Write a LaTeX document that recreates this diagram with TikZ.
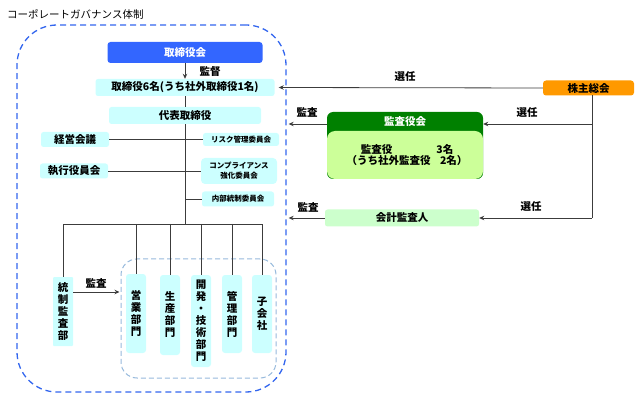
\documentclass[tikz,border=0pt]{standalone}
\usepackage{fontspec}
\setmainfont{Noto Sans CJK JP}
\usetikzlibrary{arrows.meta,calc}
\definecolor{cyanbox}{RGB}{204,255,255}
\definecolor{boardblue}{RGB}{51,102,255}
\definecolor{outerblue}{RGB}{51,102,238}
\definecolor{innerblue}{RGB}{150,185,220}
\definecolor{kgreen}{RGB}{0,128,0}
\definecolor{kbody}{RGB}{204,255,153}
\definecolor{kaikeigreen}{RGB}{204,255,204}
\definecolor{orangebox}{RGB}{255,153,0}
\definecolor{linegray}{RGB}{60,60,60}
\tikzset{
  mainfont/.style={font=\fontsize{10.5}{12}\selectfont\bfseries},
  smallfont/.style={font=\fontsize{7.5}{10}\selectfont\bfseries},
  cbox/.style={fill=cyanbox, rounded corners=2.5pt, inner sep=0pt, mainfont},
  cboxs/.style={fill=cyanbox, rounded corners=2.5pt, inner sep=0pt, smallfont, align=center},
  vbox/.style={fill=cyanbox, rounded corners=3pt, inner sep=0pt, align=center, minimum width=20pt, font=\fontsize{10.5}{12}\selectfont\bfseries},
  conn/.style={draw=linegray, line width=0.8pt},
  arr/.style={conn, -{Stealth[length=5pt,width=4.5pt]}},
  lbl/.style={inner sep=0pt, mainfont},
}
\begin{document}
\begin{tikzpicture}[x=1pt,y=-1pt]
\useasboundingbox (0,0) rectangle (640,398);

% title
\node[lbl, anchor=west, font=\fontsize{10.5}{12}\selectfont] (title) at (7,14) {コーポレートガバナンス体制};

% outer and inner dashed frames
\node[draw=outerblue, line width=1.3pt, dash pattern=on 6pt off 4pt, rounded corners=40pt,
      minimum width=269pt, minimum height=367pt, inner sep=0pt] (outer) at (151.5,208.5) {};
\node[draw=innerblue, line width=1pt, dash pattern=on 5pt off 3pt, rounded corners=16pt,
      minimum width=155pt, minimum height=119pt, inner sep=0pt] (inner) at (198.5,318.5) {};

% left structure
\node[fill=boardblue, text=white, rounded corners=3pt, minimum width=155pt, minimum height=21pt, inner sep=0pt, mainfont] (board) at (185,52.5) {取締役会};
\node[cbox, minimum width=179pt, minimum height=17pt] (r6) at (185,87.5) {取締役6名(うち社外取締役1名)};
\node[cbox, minimum width=152pt, minimum height=17pt] (daihyo) at (185,115.5) {代表取締役};
\node[cbox, minimum width=68pt, minimum height=15pt] (keiei) at (75,139.5) {経営会議};
\node[cbox, minimum width=68pt, minimum height=15pt] (shikko) at (74,171) {執行役員会};
\node[cboxs, minimum width=76pt, minimum height=13pt] (risk) at (241,139.5) {リスク管理委員会};
\node[cboxs, minimum width=76pt, minimum height=26pt, rounded corners=4pt] (comp) at (239,171) {コンプライアンス\\強化委員会};
\node[cboxs, minimum width=72pt, minimum height=15pt] (naibu) at (238,199) {内部統制委員会};

\node[vbox, minimum height=69pt, rounded corners=1pt] (tosei) at (63,311.5) {統\\制\\監\\査\\部};
\node[vbox, minimum height=79pt] (d1) at (136,313.5) {営\\業\\部\\門};
\node[vbox, minimum height=80pt] (d2) at (170,315) {生\\産\\部\\門};
\node[vbox, minimum height=92pt] (d3) at (201,321) {開\\発\\・\\技\\術\\部\\門};
\node[vbox, minimum height=78pt] (d4) at (232,314) {管\\理\\部\\門};
\node[vbox, minimum height=78pt] (d5) at (262,314) {子\\会\\社};

\coordinate (bus) at (185,224);

% connectors left
\draw[arr] (board.south) -- (r6.north);
\node[lbl] (kantoku) at (210,72) {監督};
\draw[conn] (r6.south) -- (daihyo.north);
\draw[conn] (daihyo.south) -- (bus);
\draw[conn] (keiei.east) -- (keiei.east -| bus);
\draw[conn] (risk.west) -- (risk.west -| bus);
\draw[conn] (shikko.east) -- (shikko.east -| bus);
\draw[conn] (comp.west) -- (comp.west -| bus);
\draw[conn] (naibu.west) -- (naibu.west -| bus);
\draw[conn] (tosei.north) -- (tosei.north |- bus) -- (d5.north |- bus) -- (d5.north);
\draw[conn] (d1.north |- bus) -- (d1.north);
\draw[conn] (d2.north |- bus) -- (d2.north);
\draw[conn] (d3.north |- bus) -- (d3.north);
\draw[conn] (d4.north |- bus) -- (d4.north);

\coordinate (ta) at (0,292);
\draw[arr] (tosei.east |- ta) -- ([xshift=-1pt]inner.west |- ta);
\node[lbl] (kansaL) at (96,283) {監査};

% right structure
\node[fill=orangebox, rounded corners=3pt, minimum width=91pt, minimum height=15pt, inner sep=0pt, mainfont] (kabu) at (588.5,88) {株主総会};
\node[fill=kgreen, rounded corners=6pt, minimum width=156pt, minimum height=67pt, inner sep=0pt] (kansa) at (405,145.5) {};
\node[fill=kbody, rounded corners=8pt, minimum width=156pt, minimum height=48pt, inner sep=0pt] (kbody) at (405,155) {};
\node[lbl, text=white] (khead) at (405,122) {監査役会};
\node[lbl, align=center, font=\fontsize{10.5}{11.5}\selectfont\bfseries] (ktext) at (407,155) {監査役\hspace{4.2em}3名\\（うち社外監査役\hspace{0.9em}2名）};
\node[fill=kaikeigreen, rounded corners=2.5pt, minimum width=154pt, minimum height=17pt, inner sep=0pt, mainfont] (kaikei) at (402,218) {会計監査人};

\coordinate (vtop) at (592,95.5);
\coordinate (vbot) at (592,218);
\coordinate (ky) at (0,124);

\draw[arr] (kabu.west) -- ([xshift=4pt]r6.east);
\node[lbl] (senin1) at (405,77) {選任};
\draw[conn] (vtop) -- (vbot);
\draw[arr] (vtop |- ky) -- (kansa.east |- ky);
\node[lbl] (senin2) at (527,112.5) {選任};
\draw[arr] (vbot) -- (kaikei.east);
\node[lbl] (senin3) at (531,207) {選任};
\draw[arr] (kansa.west |- ky) -- ([xshift=2pt]outer.east |- ky);
\node[lbl] (kansa1) at (307,112) {監査};
\draw[arr] (kaikei.west) -- ([xshift=2pt]outer.east |- kaikei.west);
\node[lbl] (kansa2) at (308,207) {監査};
\end{tikzpicture}
\end{document}
